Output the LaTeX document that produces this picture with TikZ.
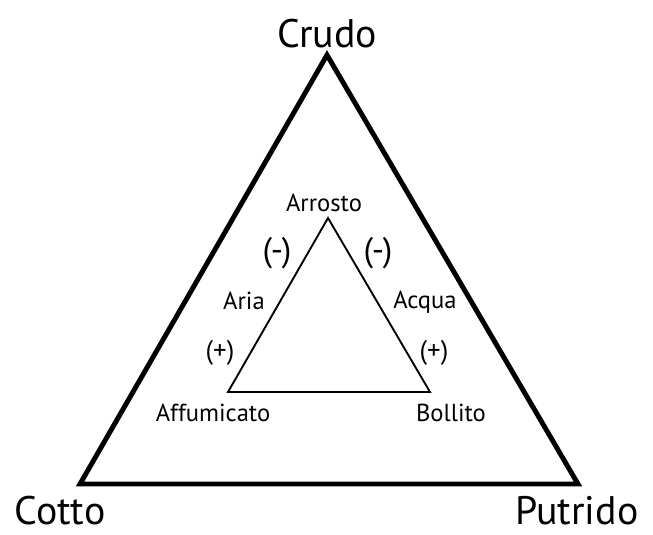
\documentclass[tikz,border=0pt]{standalone}
\usepackage{fontspec}
\setmainfont{PT Sans}
\begin{document}
\begin{tikzpicture}[x=0.03cm, y=-0.03cm,
		corner/.style={inner sep=0pt, font=\fontsize{34}{40}\selectfont},
		food/.style={font=\fontsize{21}{25}\selectfont},
		minus/.style={font=\fontsize{29}{34}\selectfont},
		plus/.style={font=\fontsize{23}{27}\selectfont}]
		\useasboundingbox (0,0) rectangle (653,534);

		% outer triangle
		\coordinate (top) at (327,55);
		\coordinate (left) at (80,484);
		\coordinate (right) at (578,484);
		\draw[line width=4.2pt] (top) -- (left) -- (right) -- cycle;

		% inner triangle
		\coordinate (itop) at (328,218);
		\coordinate (ileft) at (228,392);
		\coordinate (iright) at (430,392);
		\draw[line width=1.6pt] (itop) -- (ileft) -- (iright) -- cycle;

		\node[corner] (crudo) at (327,34) {Crudo};
		\node[corner] (cotto) at (60,511) {Cotto};
		\node[corner] (putrido) at (577,511) {Putrido};

		\node[food] (arrosto) at (324,203) {Arrosto};
		\node[food] (affumicato) at (213,413) {Affumicato};
		\node[food] (bollito) at (451,413) {Bollito};
		\node[food] (aria) at (244,301) {Aria};
		\node[food] (acqua) at (425,302) {Acqua};

		\node[minus] (lminus) at (277,253) {(-)};
		\node[minus] (rminus) at (378,253) {(-)};
		\node[plus] (lplus) at (220,353) {(+)};
		\node[plus] (rplus) at (434,353) {(+)};
	\end{tikzpicture}
\end{document}
